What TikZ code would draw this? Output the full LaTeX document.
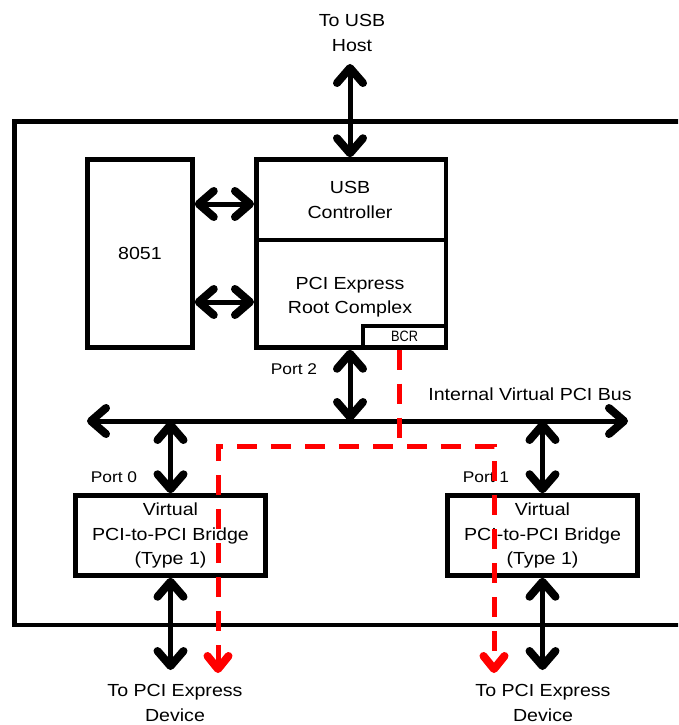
\documentclass[tikz,border=0pt]{standalone}
\usepackage{fontspec}
\setmainfont{Liberation Sans}[FakeStretch=1.12]
\newfontfamily\bcrfont{Liberation Sans}[FakeStretch=0.85]
\usetikzlibrary{arrows.meta,calc}

\begin{document}
\begin{tikzpicture}[x=1pt,y=-1pt,
  box/.style={draw, line width=4.5pt, inner sep=0pt, rectangle, align=center,
              font=\fontsize{17.5}{24.5}\selectfont},
  lbl/.style={font=\fontsize{17.5}{24.5}\selectfont, align=center, inner sep=0pt},
  portlbl/.style={font=\fontsize{15.5}{18}\selectfont, inner sep=0pt},
  barb/.tip={Straight Barb[length=15pt,width=26pt,round,line width=8pt]},
  redbarb/.tip={Straight Barb[length=13pt,width=21pt,round,line width=8pt]},
  link/.style={line width=5pt, barb-barb},
  cfgline/.style={draw=red, line width=5pt, dash pattern=on 20pt off 14pt},
]
\useasboundingbox (0,0) rectangle (678,725);

% enclosing device outline, open on the right
\begin{scope}
\clip (0,0) rectangle (678,725);
\draw[line width=4.5pt] (700,121.5) -- (14.5,121.5) -- (14.5,625) -- (700,625);
\end{scope}

% blocks
\node[box, minimum width=105pt, minimum height=188pt] (mcu) at (140,253.5) {8051};
\node[box, minimum width=189.5pt, minimum height=188pt] (usb) at (351,253.5) {};
\draw[line width=4.5pt] (usb.west |- 0,240) -- (usb.east |- 0,240);
\node[lbl] (usbtxt) at (350,200) {USB\\Controller};
\node[lbl] (rctxt) at (350,297) {PCI Express\\Root Complex};
\node[draw, line width=4pt, inner sep=0pt, minimum width=83pt, minimum height=21.5pt,
      font=\bcrfont\fontsize{15}{18}\selectfont] (bcr) at (404.5,336.75) {BCR};

\node[box, minimum width=190pt, minimum height=80pt] (br0) at (170.5,535.5)
  {Virtual\\PCI-to-PCI Bridge\\(Type 1)};
\node[box, minimum width=190pt, minimum height=80pt] (br1) at (542.5,535.5)
  {Virtual\\PCI-to-PCI Bridge\\(Type 1)};

% labels
\node[lbl] (host) at (352,33) {To USB\\Host};
\node[lbl] (dev0) at (175,703) {To PCI Express\\Device};
\node[lbl] (dev1) at (543,703) {To PCI Express\\Device};
\node[portlbl] (p2) at (294,369) {Port 2};
\node[portlbl] (p0) at (114,477) {Port 0};
\node[portlbl] (p1) at (486,477) {Port 1};
\node[lbl] (buslbl) at (530,394) {Internal Virtual PCI Bus};

% internal bus
\coordinate (busL) at (87,421);
\coordinate (busR) at (628,421);
\draw[link] (busL) -- (busR);

% connectors
\coordinate (hostEnd) at (350,64);
\draw[link] (hostEnd) -- (hostEnd |- usb.north);
\coordinate (a1) at (0,204);
\coordinate (a2) at (0,302);
\draw[link] (mcu.east |- a1) -- (usb.west |- a1);
\draw[link] (mcu.east |- a2) -- (usb.west |- a2);
\coordinate (p2x) at (350,0);
\draw[link] (p2x |- usb.south) -- (p2x |- busL);
\draw[link] (br0.north) -- (br0.north |- busL);
\draw[link] (br1.north) -- (br1.north |- busL);
\coordinate (dev0end) at (170.5,670);
\coordinate (dev1end) at (542.5,670);
\draw[link] (br0.south) -- (dev0end);
\draw[link] (br1.south) -- (dev1end);

% configuration path from the BCR
\coordinate (bcrOut) at (399,0);
\coordinate (cfgY) at (0,446);
\coordinate (cfg0) at (218,673);
\coordinate (cfg1) at (494,673);
\draw[cfgline] (bcrOut |- bcr.south) -- (bcrOut |- cfgY);
\draw[cfgline, redbarb-redbarb]
  (cfg0) -- (cfg0 |- cfgY) -- (cfg1 |- cfgY) -- (cfg1);
\end{tikzpicture}
\end{document}
